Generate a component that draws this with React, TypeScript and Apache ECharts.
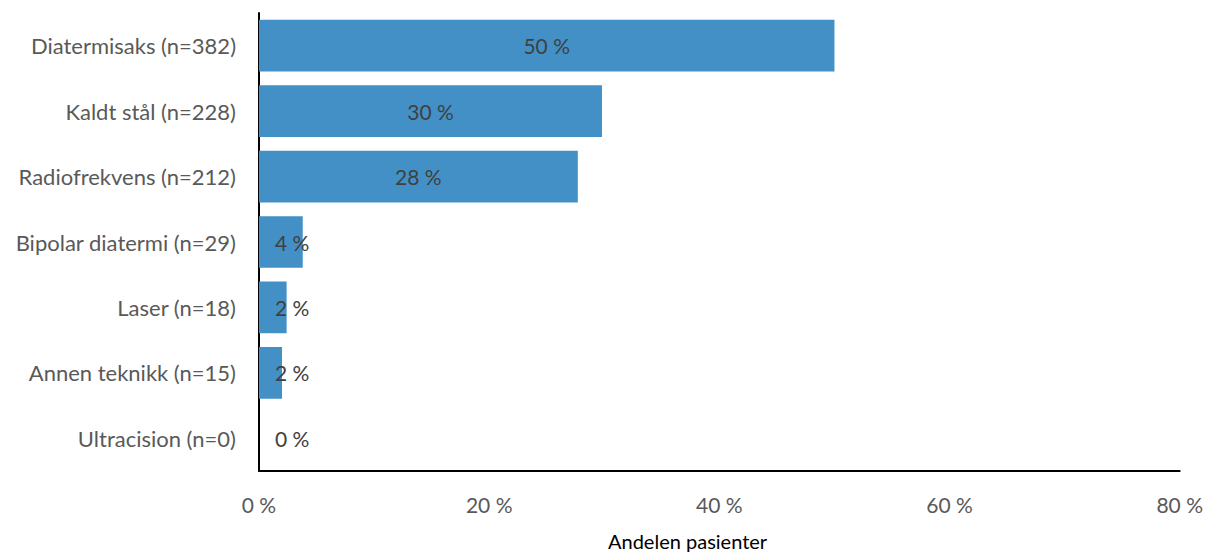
import React, { useEffect, useRef } from "react";
import * as echarts from "echarts";

const categories = [
  "Diatermisaks (n=382)",
  "Kaldt stål (n=228)",
  "Radiofrekvens (n=212)",
  "Bipolar diatermi (n=29)",
  "Laser (n=18)",
  "Annen teknikk (n=15)",
  "Ultracision (n=0)",
];
const values = [50.0, 29.8, 27.7, 3.8, 2.4, 2.0, 0];
const xTicks = [0, 20, 40, 60, 80];
const xAxisTitle = "Andelen pasienter";

export default function App() {
  const ref = useRef<HTMLDivElement>(null);
  useEffect(() => {
    document.body.style.margin = "0";
    const chart = echarts.init(ref.current!, null, { renderer: "svg" });
    const font = "Lato, 'Open Sans', sans-serif";
    const cats = [...categories].reverse();
    const vals = [...values].reverse();
    chart.setOption({
      animation: false,
      grid: { left: 259, right: 26, top: 13, bottom: 81, containLabel: false },
      xAxis: {
        type: "value",
        min: xTicks[0],
        max: xTicks[xTicks.length - 1],
        interval: 20,
        splitLine: { show: false },
        axisLine: { show: true, lineStyle: { color: "#000", width: 2 } },
        axisTick: { show: false },
        axisLabel: {
          formatter: (v: number) => `${v} %`,
          color: "#595959",
          fontSize: 21,
          fontFamily: font,
          margin: 23,
        },
      },
      yAxis: {
        type: "category",
        data: cats,
        axisLine: { show: true, lineStyle: { color: "#000", width: 2 } },
        axisTick: { show: false },
        axisLabel: {
          color: "#595959",
          fontSize: 22,
          fontFamily: font,
          margin: 23,
        },
      },
      series: [
        {
          type: "bar",
          barCategoryGap: "21%",
          itemStyle: { color: "#4290c6" },
          data: vals.map((v) => {
            const small = v < 10;
            return {
              value: v,
              label: small
                ? { show: true, position: "insideLeft", distance: 16 }
                : { show: true, position: "inside" },
            };
          }),
          label: {
            show: true,
            formatter: (p: any) => `${Math.round(p.value)} %`,
            color: "#404040",
            fontSize: 21,
            fontFamily: font,
          },
        },
      ],
      graphic: [
        {
          type: "text",
          left: 608,
          top: 531,
          style: {
            text: xAxisTitle,
            fill: "#000",
            fontSize: 20,
            fontFamily: font,
          },
        },
      ],
    });
    return () => chart.dispose();
  }, []);
  return (
    <div
      ref={ref}
      style={{ position: "absolute", left: 0, top: 0, width: 1206, height: 552 }}
    />
  );
}
